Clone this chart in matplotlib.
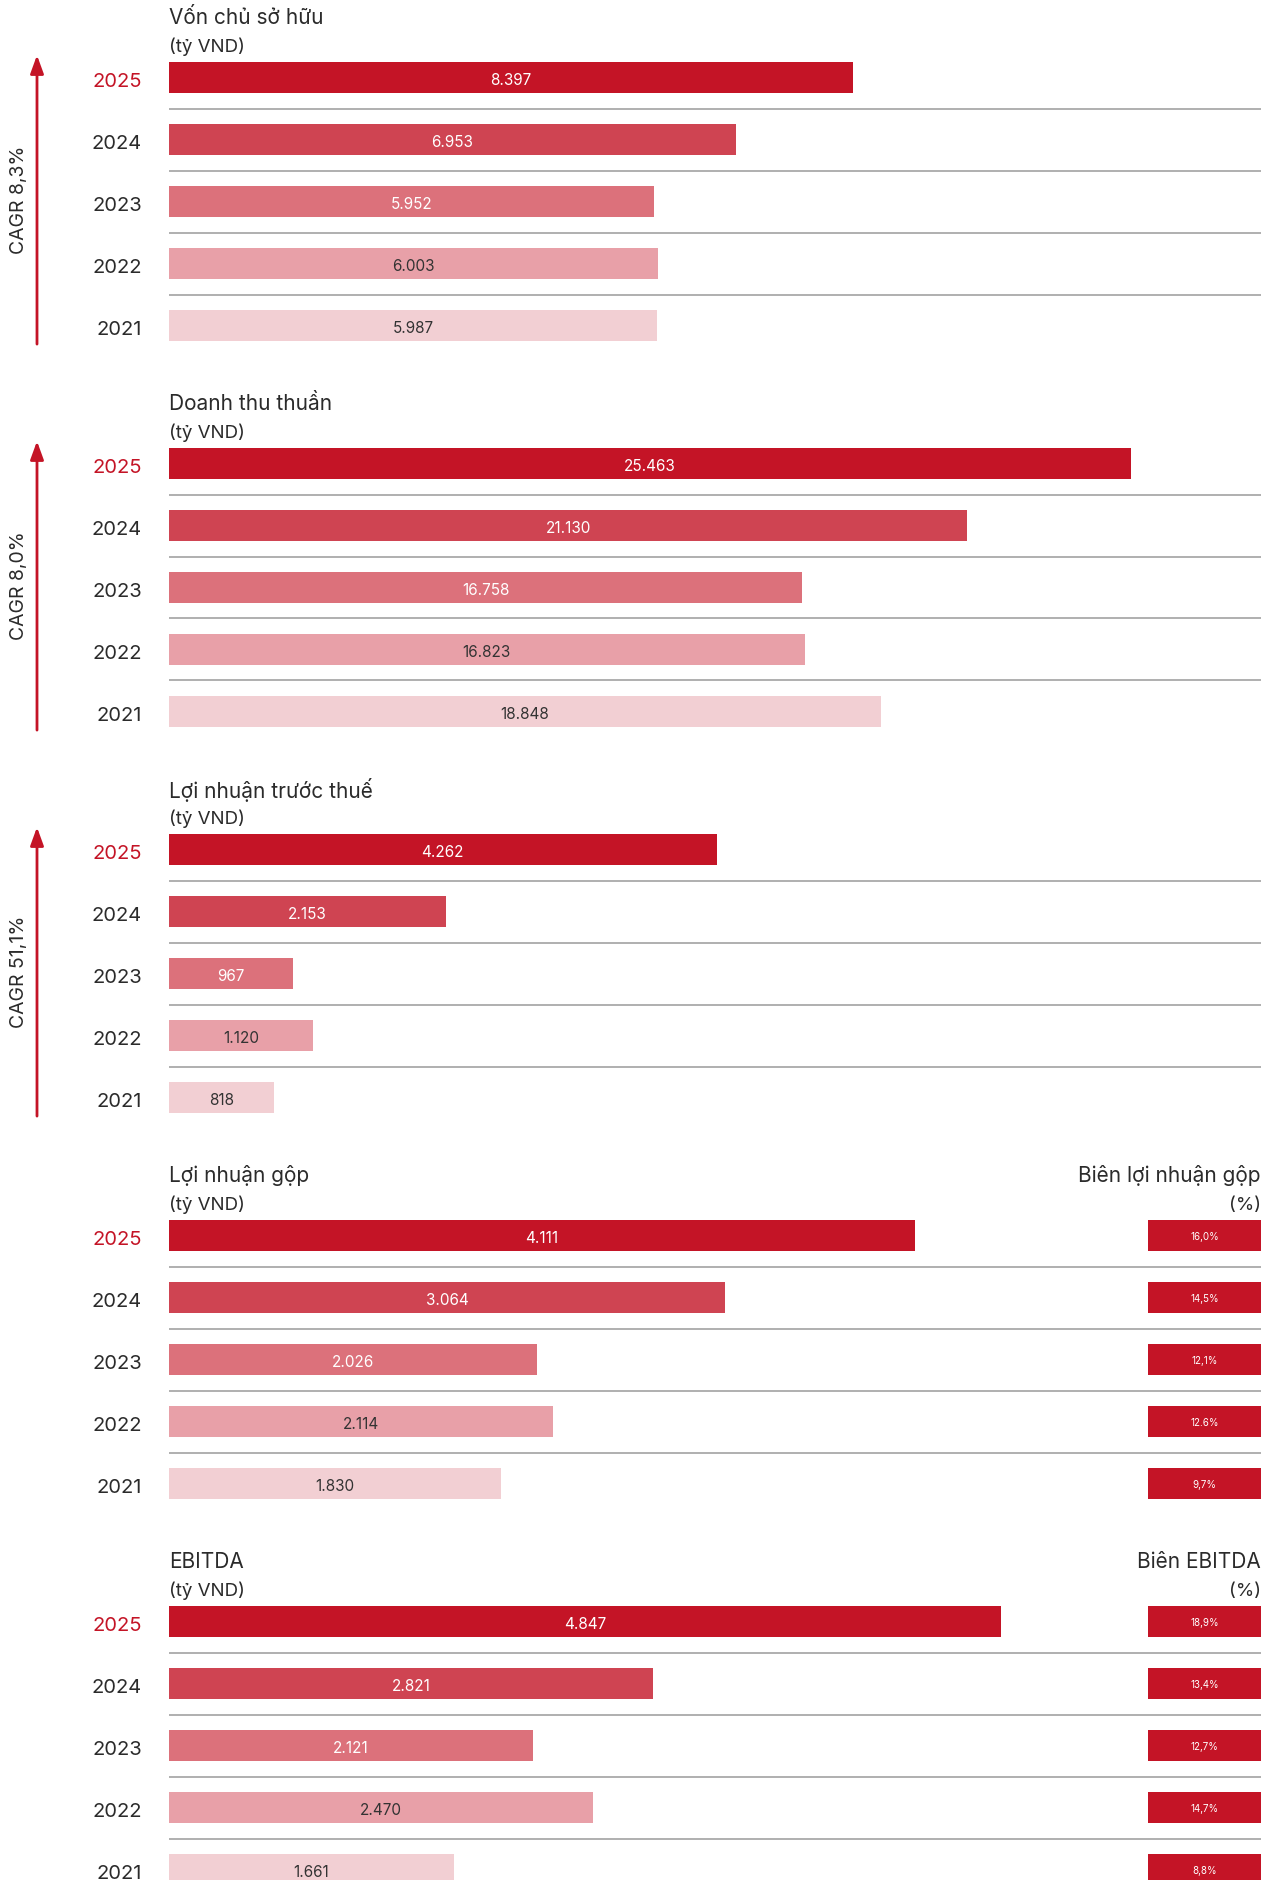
import matplotlib
matplotlib.use("Agg")
import matplotlib.pyplot as plt
import matplotlib.transforms as mtransforms

plt.rcParams['font.family'] = ['Inter', 'DejaVu Sans']

# ---------------- data ----------------
years = ["2025", "2024", "2023", "2022", "2021"]
equity = [8397, 6953, 5952, 6003, 5987]
revenue = [25463, 21130, 16758, 16823, 18848]
profit_before_tax = [4262, 2153, 967, 1120, 818]
gross_profit = [4111, 3064, 2026, 2114, 1830]
ebitda = [4847, 2821, 2121, 2470, 1661]
gross_margin_labels = ["16,0%", "14,5%", "12,1%", "12.6%", "9,7%"]
ebitda_margin_labels = ["18,9%", "13,4%", "12,7%", "14,7%", "8,8%"]

panel_titles = ["Vốn chủ sở hữu", "Doanh thu thuần", "Lợi nhuận trước thuế",
                "Lợi nhuận gộp", "EBITDA"]
unit_label = "(tỷ VND)"
cagr_labels = ["CAGR 8,3%", "CAGR 8,0%", "CAGR 51,1%"]
margin_titles = ["Biên lợi nhuận gộp", "Biên EBITDA"]
margin_unit = "(%)"

# ---------------- style ----------------
bar_colors = ["#C41426", "#CF4452", "#DC717B", "#E8A0A8", "#F2CFD3"]
label_colors = ["white", "white", "white", "#333333", "#333333"]
RED = "#C41426"
TXT = "#2b2b2b"
SEP = "#9a9a9a"

W, H = 1269, 1880
fig = plt.figure(figsize=(W / 100, H / 100), dpi=100)


def rect(left, top, width, height):
    return [left / W, 1 - (top + height) / H, width / W, height / H]


def fmt(v):
    return f"{v:,}".replace(",", ".")


series = [equity, revenue, profit_before_tax, gross_profit, ebitda]
xmaxes = [13400, 28900, 8500, 6017, 6360]
margins = [None, None, None, gross_margin_labels, ebitda_margin_labels]

AX_L, AX_W = 169, 1092
ROW = 62
rows = list(range(len(years)))

for p, vals in enumerate(series):
    y0 = 77.5 + 386 * p
    ax = fig.add_axes(rect(AX_L, y0 - ROW / 2, AX_W, ROW * 5))
    ax.set_xlim(0, xmaxes[p])
    ax.set_ylim(4.5, -0.5)
    ax.barh(rows, vals, height=0.5, color=bar_colors, zorder=2)
    for r, v in zip(rows, vals):
        ax.text(v / 2, r + 0.05, fmt(v), ha='center', va='center', fontsize=11,
                color=label_colors[r], zorder=3)
    for r in rows[:-1]:
        ax.axhline(r + 0.5, color=SEP, lw=1.1, zorder=1)
    ax.set_yticks([])
    ax.set_xticks([])
    for s in ax.spines.values():
        s.set_visible(False)
    ax.patch.set_alpha(0)

    bt = mtransforms.blended_transform_factory(ax.transAxes, ax.transData)
    for r, yr in zip(rows, years):
        ax.text((142 - AX_L) / AX_W, r + 0.065, yr, transform=bt, ha='right',
                va='center', fontsize=14.5, color=RED if r == 0 else TXT,
                clip_on=False)
    ax.text(0.0, -0.96, panel_titles[p], transform=bt, ha='left', va='center',
            fontsize=15, color=TXT, clip_on=False)
    ax.text(0.0, -0.49, unit_label, transform=bt, ha='left', va='center',
            fontsize=13.5, color=TXT, clip_on=False)

    if p < 3:
        ax_x = (37 - AX_L) / AX_W
        ax.annotate('', xy=(ax_x, -0.36), xytext=(ax_x, 4.3), xycoords=bt,
                    textcoords=bt,
                    arrowprops=dict(arrowstyle='-|>,head_length=1.1,head_width=0.4',
                                    mutation_scale=10, color=RED, lw=2.0,
                                    shrinkA=0, shrinkB=0))
        ax.text((19 - AX_L) / AX_W, 1.97, cagr_labels[p], transform=bt,
                rotation=90, ha='center', va='center', fontsize=14,
                color=TXT, clip_on=False)

    if margins[p] is not None:
        mx = fig.add_axes(rect(1148, y0 - ROW / 2, 113, ROW * 5))
        mx.set_xlim(0, 1)
        mx.set_ylim(4.5, -0.5)
        mx.barh(rows, [1] * len(rows), height=0.5, color=RED, zorder=2)
        for r, lab in zip(rows, margins[p]):
            mx.text(0.5, r + 0.03, lab, ha='center', va='center', fontsize=7,
                    color='white', zorder=3)
        mx.axis('off')
        mi = p - 3
        ax.text(1.0, -0.96, margin_titles[mi], transform=bt, ha='right',
                va='center', fontsize=15, color=TXT, clip_on=False)
        ax.text(1.0, -0.49, margin_unit, transform=bt, ha='right',
                va='center', fontsize=13.5, color=TXT, clip_on=False)

fig.savefig("out.png", dpi=100)
